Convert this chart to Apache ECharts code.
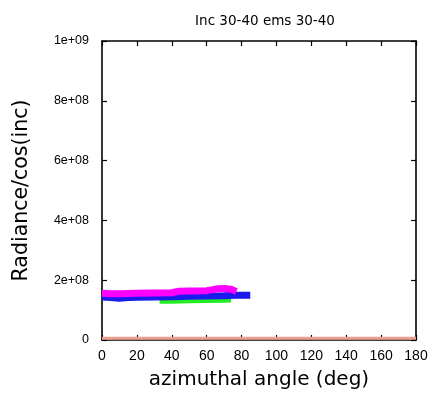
<!DOCTYPE html>
<html><head><meta charset="utf-8">
<script src="https://cdn.jsdelivr.net/npm/echarts@6/dist/echarts.min.js"></script>
<style>html,body{margin:0;padding:0;background:#fff}#c{width:436px;height:401px}</style>
</head><body><div id="c"></div>
<script>
const titleText = "Inc 30-40 ems 30-40";
const xName = "azimuthal angle (deg)";
const yName = "Radiance/cos(inc)";
const magentaX = [0, 5, 10, 20, 30, 40, 44, 50, 60, 66, 70, 74, 77];
const magentaY = [1.56e8,1.55e8,1.55e8,1.56e8,1.57e8,1.58e8,1.63e8,1.64e8,1.65e8,1.71e8,1.72e8,1.7e8,1.62e8];
const blueX = [0, 5, 10, 15, 20, 30, 40, 50, 60, 70, 76, 80, 85];
const blueY = [1.44e8,1.42e8,1.40e8,1.42e8,1.43e8,1.44e8,1.45e8,1.46e8,1.47e8,1.48e8,1.5e8,1.5e8,1.5e8];
const greenX = [33, 40, 50, 60, 70, 74];
const greenY = [1.30e8,1.30e8,1.31e8,1.32e8,1.33e8,1.34e8];
const baseX = [0, 180];
const baseY = [6e6, 6e6];

function fmt(v){
  if (v === 0) return "0";
  const e = Math.floor(Math.log10(v));
  const m = Math.round(v / Math.pow(10, e));
  return m + "e+" + String(e).padStart(2, "0");
}
const zip = (a,b)=>a.map((x,i)=>[x,b[i]]);
const font = "DejaVu Sans";
const font2 = "Liberation Sans";
const chart = echarts.init(document.getElementById('c'), null, {renderer:'canvas'});
const axisCommon = {
  min: 0, axisLine:{show:true, onZero:false, lineStyle:{color:'#000', width:1.6}},
  axisTick:{show:true, inside:true, length:5, lineStyle:{color:'#000', width:1.2}},
  splitLine:{show:false}
};
chart.setOption({
  animation:false,
  title:{text:titleText, left:260, top:9, textAlign:'center',
    textStyle:{fontFamily:font, fontSize:13.5, fontWeight:'normal', color:'#000'}},
  grid:{left:102, top:41, width:314, height:299, show:false},
  xAxis:[
    Object.assign({}, axisCommon, {type:'value', max:180, interval:20, position:'bottom',
      axisLabel:{fontFamily:font2, fontSize:14, color:'#000', margin:9},
      name:xName, nameLocation:'middle', nameGap:30,
      nameTextStyle:{fontFamily:font, fontSize:20, color:'#000'}}),
    Object.assign({}, axisCommon, {type:'value', max:180, interval:20, position:'top',
      axisLabel:{show:false}})
  ],
  yAxis:[
    Object.assign({}, axisCommon, {type:'value', max:1e9, interval:2e8, position:'left',
      axisLabel:{fontFamily:font2, fontSize:12.5, color:'#000', margin:13, formatter:fmt},
      name:yName, nameLocation:'middle', nameGap:70, nameRotate:90,
      nameTextStyle:{fontFamily:font, fontSize:20.5, color:'#000'}}),
    Object.assign({}, axisCommon, {type:'value', max:1e9, interval:2e8, position:'right',
      axisLabel:{show:false}})
  ],
  series:[
    {type:'line', data:zip(baseX, baseY), symbol:'none', lineStyle:{color:'#eba08f', width:3}, z:1},
    {type:'line', data:zip(greenX, greenY), symbol:'none', lineStyle:{color:'#22ee22', width:5}, z:2},
    {type:'line', data:zip(blueX, blueY), symbol:'none', lineStyle:{color:'#1a1aee', width:7}, z:3},
    {type:'line', data:zip(magentaX, magentaY), symbol:'none', lineStyle:{color:'#ff00ff', width:7}, z:4}
  ]
});
</script></body></html>
